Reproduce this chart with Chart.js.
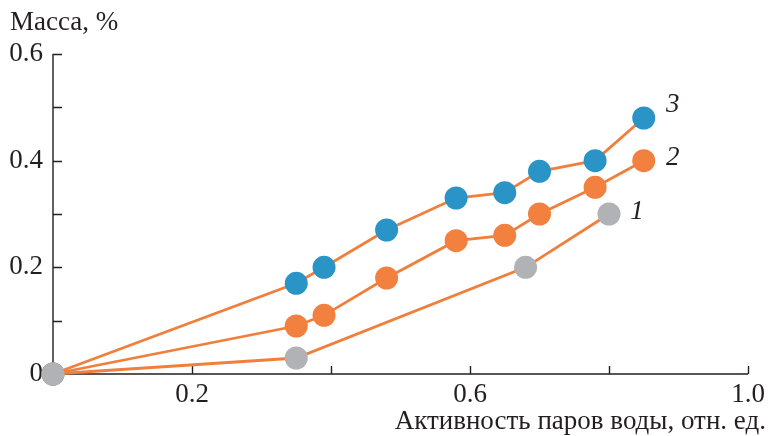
<!DOCTYPE html>
<html>
<head>
<meta charset="utf-8">
<script src="https://cdn.jsdelivr.net/npm/chart.js@4"></script>
<style>
  html, body { margin: 0; padding: 0; background: #fff; }
  #wrap { position: relative; width: 768px; height: 436px; }
  canvas { position: absolute; left: 0; top: 0; }
  .ttl { position: absolute; font-family: "Liberation Serif", "Times New Roman", serif; font-size: 27px; color: #231f20; white-space: nowrap; line-height: 1; }
</style>
</head>
<body>
<div id="wrap">
  <canvas id="c" width="768" height="436"></canvas>
  <div class="ttl" id="ytitle" style="left:10px; top:8px;">Масса, %</div>
  <div class="ttl" id="xtitle" style="right:2px; top:407px;">Активность паров воды, отн. ед.</div>
</div>
<script>
// Water vapour activity (x) and mass gain (y) for three samples
const activity1 = [0, 0.35, 0.68, 0.80];
const mass1 = [0, 0.03, 0.20, 0.30];

const activity2 = [0, 0.35, 0.39, 0.48, 0.58, 0.65, 0.70, 0.78, 0.85];
const mass2 = [0, 0.09, 0.11, 0.18, 0.25, 0.26, 0.30, 0.35, 0.40];

const activity3 = [0, 0.35, 0.39, 0.48, 0.58, 0.65, 0.70, 0.78, 0.85];
const mass3 = [0, 0.17, 0.20, 0.27, 0.33, 0.34, 0.38, 0.40, 0.48];

const seriesNames = ['1', '2', '3'];
const xTickLabels = ['0.2', '0.6', '1.0'];
const yTickLabels = ['0', '0.2', '0.4', '0.6'];

const LINE = '#f07f3c';
const INK = '#231f20';
const FONT = '"Liberation Serif", "Times New Roman", serif';

const pts = (xs, ys) => xs.map((x, i) => ({ x: x, y: ys[i] }));

function series(name, xs, ys, fill, dx, dy) {
  return {
    label: name,
    data: pts(xs, ys),
    showLine: true,
    borderColor: LINE,
    borderWidth: 2.8,
    pointRadius: 11.5,
    pointHoverRadius: 11.5,
    pointBackgroundColor: fill,
    pointBorderWidth: 0,
    clip: false,
    tag: { dx: dx, dy: dy }
  };
}

// Axis lines and inward tick marks
const axesPlugin = {
  id: 'axes',
  beforeDatasetsDraw(chart) {
    const { ctx, chartArea: a, scales: { x, y } } = chart;
    ctx.save();
    ctx.strokeStyle = INK;
    ctx.lineWidth = 1.4;
    ctx.beginPath();
    ctx.moveTo(a.left, a.top);
    ctx.lineTo(a.left, a.bottom);
    ctx.lineTo(a.right, a.bottom);
    for (let v = 0.1; v <= 0.6001; v += 0.1) {
      const py = Math.round(y.getPixelForValue(v)) + 0.5;
      ctx.moveTo(a.left, py);
      ctx.lineTo(a.left + 9, py);
    }
    for (let v = 0.2; v <= 1.0001; v += 0.2) {
      const px = Math.round(x.getPixelForValue(v)) + 0.5;
      ctx.moveTo(px, a.bottom);
      ctx.lineTo(px, a.bottom - 8);
    }
    ctx.stroke();
    ctx.restore();
  }
};

// Curve numbers next to the last point of each series
const tagPlugin = {
  id: 'tags',
  afterDatasetsDraw(chart) {
    const { ctx } = chart;
    ctx.save();
    ctx.fillStyle = INK;
    ctx.font = 'italic 27px ' + FONT;
    ctx.textAlign = 'center';
    ctx.textBaseline = 'middle';
    chart.data.datasets.forEach((ds, i) => {
      const meta = chart.getDatasetMeta(i);
      const last = meta.data[meta.data.length - 1];
      ctx.fillText(ds.label, last.x + ds.tag.dx, last.y + ds.tag.dy);
    });
    ctx.restore();
  }
};

new Chart(document.getElementById('c'), {
  type: 'scatter',
  data: {
    datasets: [
      series(seriesNames[0], activity1, mass1, '#b1b2b6', 28, -2),
      series(seriesNames[1], activity2, mass2, '#f2803e', 29, -3),
      series(seriesNames[2], activity3, mass3, '#2a94c6', 29, -13)
    ]
  },
  options: {
    responsive: false,
    animation: false,
    events: [],
    layout: { padding: { top: 54, right: 20, left: 0, bottom: 0 } },
    plugins: { legend: { display: false }, tooltip: { enabled: false } },
    scales: {
      x: {
        type: 'linear', min: 0, max: 1.0,
        afterFit(s) { s.height = 62; s.paddingRight = 0; s.paddingLeft = 0; },
        grid: { display: false, drawTicks: false },
        border: { display: false },
        ticks: {
          stepSize: 0.2, padding: 5, maxRotation: 0, autoSkip: false,
          color: INK, font: { family: FONT, size: 27 },
          callback(v) {
            const t = v.toFixed(1);
            return xTickLabels.includes(t) ? t : '';
          }
        }
      },
      y: {
        type: 'linear', min: 0, max: 0.6,
        afterFit(s) { s.width = 53; s.paddingTop = 0; s.paddingBottom = 0; },
        grid: { display: false, drawTicks: false },
        border: { display: false },
        ticks: {
          stepSize: 0.2, padding: 10, autoSkip: false,
          color: INK, font: { family: FONT, size: 27 },
          callback(v) {
            const t = Math.abs(v) < 1e-9 ? '0' : v.toFixed(1);
            return yTickLabels.includes(t) ? t : '';
          }
        }
      }
    }
  },
  plugins: [axesPlugin, tagPlugin]
});
</script>
</body>
</html>
